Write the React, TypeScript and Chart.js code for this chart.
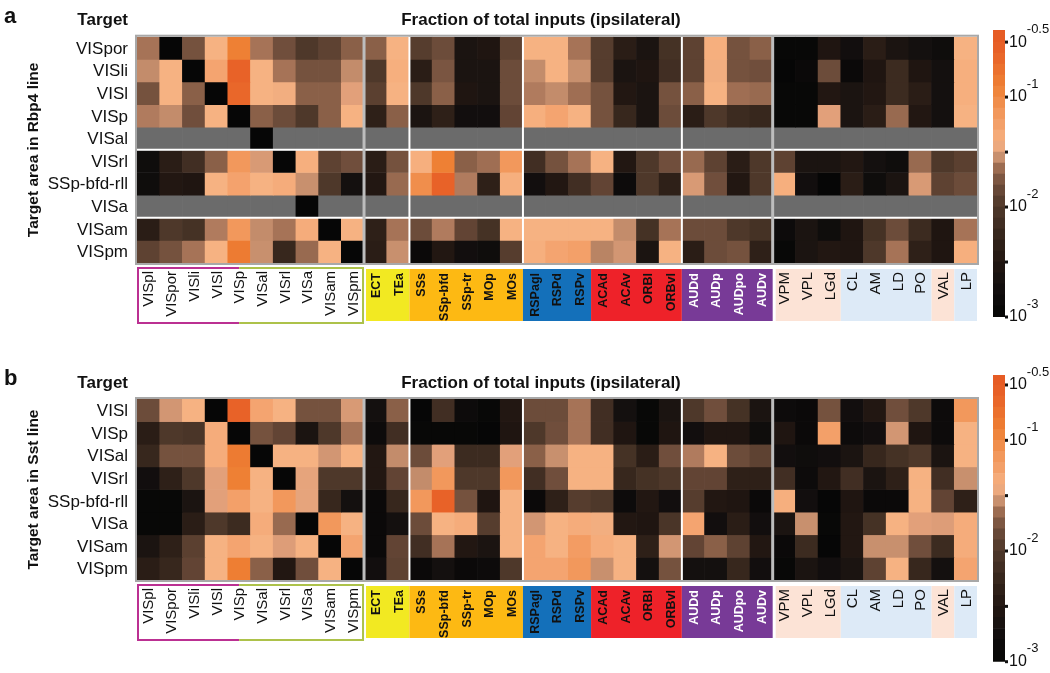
import React, { useEffect, useRef } from "react";
import { Chart, registerables } from "chart.js";
Chart.register(...registerables);

const FONT = '"Liberation Sans", Arial, Helvetica, sans-serif';

// ---------------- categories ----------------
const sourceAreas = [
  "VISpl", "VISpor", "VISli", "VISl", "VISp", "VISal", "VISrl", "VISa", "VISam", "VISpm",
  "ECT", "TEa",
  "SSs", "SSp-bfd", "SSp-tr", "MOp", "MOs",
  "RSPagl", "RSPd", "RSPv",
  "ACAd", "ACAv", "ORBl", "ORBvl",
  "AUDd", "AUDp", "AUDpo", "AUDv",
  "VPM", "VPL", "LGd", "CL", "AM", "LD", "PO", "VAL", "LP",
];

const rbp4Targets = ["VISpor", "VISli", "VISl", "VISp", "VISal", "VISrl", "SSp-bfd-rll", "VISa", "VISam", "VISpm"];
const sstTargets = ["VISl", "VISp", "VISal", "VISrl", "SSp-bfd-rll", "VISa", "VISam", "VISpm"];

// ---------------- values: log10(fraction of total inputs), null = not measured ----------------
const N = null;
// Rbp4 line
const rbp4_VISpor = [-1.62, -3, -1.78, -1.4, -0.9, -1.62, -1.8, -2.0, -1.9, -1.7, -1.7, -1.4, -1.95, -1.82, -2.6, -2.55, -1.9, -1.4, -1.4, -1.62, -1.95, -2.4, -2.6, -2.1, -1.9, -1.38, -1.78, -1.7, -2.95, -2.95, -2.55, -2.75, -2.4, -2.6, -2.7, -2.8, -1.4];
const rbp4_VISli = [-1.56, -1.4, -3, -1.3, -0.6, -1.4, -1.62, -1.78, -1.78, -1.56, -2.0, -1.38, -2.4, -1.76, -2.6, -2.6, -1.82, -1.56, -1.4, -1.55, -1.95, -2.6, -2.55, -2.15, -1.9, -1.42, -1.78, -1.8, -3, -2.9, -1.82, -2.9, -2.55, -2.2, -2.55, -2.7, -1.38];
const rbp4_VISl = [-1.78, -1.4, -1.7, -3, -0.65, -1.4, -1.42, -1.7, -1.7, -1.5, -1.92, -1.4, -2.0, -1.7, -2.55, -2.6, -1.82, -1.6, -1.56, -1.64, -1.78, -2.5, -2.6, -1.78, -1.7, -1.4, -1.64, -1.66, -2.95, -2.95, -2.5, -2.6, -2.5, -2.2, -2.4, -2.7, -1.38];
const rbp4_VISp = [-1.6, -1.56, -1.8, -1.4, -3, -1.7, -1.82, -2.0, -1.7, -1.4, -2.35, -1.7, -2.6, -2.35, -2.75, -2.75, -1.88, -1.38, -1.3, -1.4, -1.78, -2.25, -2.6, -1.82, -2.4, -2.0, -2.2, -2.25, -2.95, -2.95, -1.5, -2.6, -2.4, -1.66, -2.5, -2.7, -1.4];
const rbp4_VISal = [N, N, N, N, N, -3, N, N, N, N, N, N, N, N, N, N, N, N, N, N, N, N, N, N, N, N, N, N, N, N, N, N, N, N, N, N, N];
const rbp4_VISrl = [-2.8, -2.4, -2.15, -1.7, -1.15, -1.52, -3, -1.38, -1.9, -1.8, -2.4, -1.78, -1.38, -0.9, -1.7, -1.64, -1.15, -2.15, -1.78, -1.62, -1.4, -2.5, -2.0, -1.8, -1.66, -1.9, -2.4, -2.0, -1.9, -2.6, -2.6, -2.5, -2.7, -2.8, -1.66, -2.0, -1.92];
const rbp4_SSpbfdrll = [-2.8, -2.5, -2.55, -1.4, -1.28, -1.4, -1.36, -1.55, -2.0, -2.7, -2.5, -1.66, -1.05, -0.6, -1.6, -2.35, -1.38, -2.75, -2.5, -2.15, -1.88, -2.85, -2.0, -2.35, -1.52, -1.8, -2.5, -2.0, -1.38, -2.75, -3, -2.4, -2.8, -2.6, -1.52, -1.9, -1.82];
const rbp4_VISa = [N, N, N, N, N, N, N, -3, N, N, N, N, N, N, N, N, N, N, N, N, N, N, N, N, N, N, N, N, N, N, N, N, N, N, N, N, N];
const rbp4_VISam = [-2.4, -2.0, -2.1, -1.6, -1.15, -1.56, -1.62, -1.36, -3, -1.4, -2.35, -1.62, -1.82, -1.6, -1.88, -2.1, -1.4, -1.4, -1.4, -1.4, -1.4, -1.56, -2.1, -1.62, -1.82, -1.82, -2.0, -2.1, -2.85, -2.6, -2.8, -2.55, -2.1, -1.82, -2.2, -2.55, -1.62];
const rbp4_VISpm = [-1.9, -1.78, -1.62, -1.4, -0.85, -1.55, -2.25, -1.66, -1.4, -3, -2.4, -1.55, -2.9, -2.5, -2.75, -2.8, -1.95, -1.38, -1.3, -1.25, -1.58, -1.53, -2.6, -1.4, -2.4, -1.82, -1.78, -2.35, -2.95, -2.6, -2.5, -2.55, -2.0, -1.62, -2.35, -2.55, -1.38];
// Sst line
const sst_VISl = [-1.82, -1.53, -1.4, -3, -0.6, -1.3, -1.4, -1.78, -1.78, -1.52, -2.7, -1.7, -3, -2.15, -2.85, -2.95, -2.5, -1.82, -1.82, -1.62, -2.15, -2.7, -2.95, -2.6, -2.0, -1.8, -2.1, -2.6, -2.85, -2.9, -1.78, -2.75, -2.5, -1.8, -2.0, -2.85, -1.15];
const sst_VISp = [-2.4, -2.0, -2.05, -1.36, -3, -1.78, -1.88, -2.6, -2.0, -1.62, -2.85, -2.15, -2.95, -2.95, -2.95, -3, -2.55, -2.0, -1.8, -1.62, -2.15, -2.55, -2.95, -2.55, -2.75, -2.55, -2.55, -2.8, -2.55, -2.9, -1.25, -2.85, -2.75, -1.53, -2.55, -2.85, -1.4];
const sst_VISal = [-2.25, -1.78, -1.78, -1.36, -0.85, -3, -1.4, -1.4, -1.53, -1.4, -2.5, -1.56, -1.82, -1.5, -2.2, -2.2, -1.5, -1.7, -1.55, -1.4, -1.4, -2.1, -2.4, -1.8, -1.6, -1.4, -1.82, -1.9, -2.75, -2.8, -2.75, -2.6, -2.25, -2.1, -2.0, -2.6, -1.4];
const sst_VISrl = [-2.75, -2.35, -2.0, -1.5, -0.9, -1.4, -3, -1.48, -2.0, -2.0, -2.5, -1.88, -1.56, -1.15, -2.0, -2.0, -1.15, -2.15, -1.8, -1.4, -1.4, -2.25, -2.1, -2.0, -1.88, -1.88, -2.35, -2.35, -2.15, -2.85, -2.5, -2.15, -2.6, -2.35, -1.4, -2.15, -1.55];
const sst_SSpbfdrll = [-2.95, -2.95, -2.6, -1.5, -1.25, -1.4, -1.15, -1.48, -2.25, -2.7, -2.9, -2.25, -1.15, -0.6, -1.78, -2.55, -1.4, -2.9, -2.35, -1.95, -2.0, -2.85, -2.5, -2.75, -1.95, -2.5, -2.55, -2.9, -1.38, -2.75, -3, -2.55, -2.9, -2.9, -1.4, -1.88, -2.35];
const sst_VISa = [-2.95, -2.95, -2.4, -2.0, -2.2, -1.36, -1.66, -3, -1.15, -1.4, -2.9, -2.7, -1.82, -1.4, -1.36, -1.95, -1.4, -1.53, -1.4, -1.36, -1.42, -2.5, -2.55, -2.05, -1.3, -2.75, -2.4, -2.75, -2.6, -1.55, -2.95, -2.5, -2.1, -1.4, -1.5, -1.51, -1.36];
const sst_VISam = [-2.6, -2.35, -1.92, -1.4, -1.3, -1.4, -1.51, -1.4, -3, -1.3, -2.9, -1.88, -2.15, -1.62, -2.5, -2.6, -1.4, -1.3, -1.4, -1.2, -1.36, -1.4, -2.35, -1.53, -1.88, -1.7, -1.9, -2.5, -2.9, -2.2, -3, -2.5, -1.55, -1.55, -1.8, -2.2, -1.36];
const sst_VISpm = [-2.4, -2.25, -1.88, -1.4, -0.88, -1.7, -2.5, -1.8, -1.4, -3, -2.75, -1.9, -2.9, -2.7, -2.9, -2.85, -2.0, -1.3, -1.3, -1.15, -1.55, -1.4, -2.7, -1.78, -2.7, -2.7, -2.25, -2.75, -2.95, -2.6, -2.75, -2.6, -1.9, -1.4, -2.25, -2.7, -1.3];

const rbp4Rows = [rbp4_VISpor, rbp4_VISli, rbp4_VISl, rbp4_VISp, rbp4_VISal, rbp4_VISrl, rbp4_SSpbfdrll, rbp4_VISa, rbp4_VISam, rbp4_VISpm];
const sstRows = [sst_VISl, sst_VISp, sst_VISal, sst_VISrl, sst_SSpbfdrll, sst_VISa, sst_VISam, sst_VISpm];

// colour bar ticks (log10 values) and exponent labels
const cbTickValues = [-3, -2.5, -2, -1.5, -1, -0.5];
const cbTickLabels = ["-3", "", "-2", "", "-1", "-0.5"];

// ---------------- styles ----------------
const GRAY = "#6B6B6B";
const STOPS: [number, number[]][] = [
  [-3.0, [6, 6, 6]], [-2.7, [20, 16, 15]], [-2.5, [34, 23, 18]], [-2.35, [46, 32, 24]],
  [-2.2, [60, 43, 32]], [-2.0, [78, 56, 42]], [-1.9, [94, 66, 50]], [-1.8, [112, 78, 60]],
  [-1.7, [138, 96, 72]], [-1.62, [166, 115, 87]], [-1.55, [200, 144, 110]], [-1.5, [226, 160, 122]],
  [-1.4, [246, 178, 130]], [-1.3, [244, 164, 112]], [-1.15, [242, 152, 92]], [-0.9, [238, 128, 52]],
  [-0.6, [232, 98, 40]], [-0.35, [228, 88, 34]],
];
function colorFor(v: number | null): string {
  if (v === null || v === undefined) return GRAY;
  if (v <= STOPS[0][0]) return `rgb(${STOPS[0][1].join(",")})`;
  for (let i = 1; i < STOPS.length; i++) {
    if (v <= STOPS[i][0]) {
      const [a, ca] = STOPS[i - 1];
      const [b, cb] = STOPS[i];
      const t = (v - a) / (b - a);
      const c = ca.map((x, k) => Math.round(x + (cb[k] - x) * t));
      return `rgb(${c.join(",")})`;
    }
  }
  return `rgb(${STOPS[STOPS.length - 1][1].join(",")})`;
}

const labelGroups = [
  { from: 10, to: 11, fill: "#F2E922", text: "#111", bold: true, shift: 2 },
  { from: 12, to: 16, fill: "#FDB913", text: "#111", bold: true, shift: 0 },
  { from: 17, to: 19, fill: "#1470BA", text: "#111", bold: true, shift: 0 },
  { from: 20, to: 23, fill: "#EE2229", text: "#111", bold: true, shift: 0 },
  { from: 24, to: 27, fill: "#783A97", text: "#fff", bold: true, shift: 0 },
  { from: 28, to: 30, fill: "#FCE3D6", text: "#111", bold: false, shift: 3 },
  { from: 31, to: 34, fill: "#DDEAF7", text: "#111", bold: false, shift: 0 },
  { from: 35, to: 35, fill: "#FCE3D6", text: "#111", bold: false, shift: 0 },
  { from: 36, to: 36, fill: "#DDEAF7", text: "#111", bold: false, shift: 0 },
];
const whiteSepCols = [12, 17, 24];
const graySepCols = [10, 28];

function makeDecor(opts: { letter: string; rows: string[]; yTitle: string; hLines: number[] }) {
  return {
    id: "decor" + opts.letter,
    afterDraw(chart: any) {
      const { ctx, chartArea: ca } = chart;
      const xs = chart.scales.x;
      const ys = chart.scales.y;
      const n = sourceAreas.length;
      const cw = (ca.right - ca.left) / n;
      const cx = (i: number) => xs.getPixelForValue(i);
      const left = (i: number) => cx(i) - cw / 2;
      const right = (i: number) => cx(i) + cw / 2;
      const ry = (r: number) => ys.getPixelForValue(r);
      ctx.save();
      // separators
      ctx.strokeStyle = "#ffffff";
      ctx.lineWidth = 2;
      for (const r of opts.hLines) {
        ctx.beginPath(); ctx.moveTo(ca.left, ry(r)); ctx.lineTo(ca.right, ry(r)); ctx.stroke();
      }
      for (const c of whiteSepCols) {
        ctx.beginPath(); ctx.moveTo(left(c), ca.top); ctx.lineTo(left(c), ca.bottom); ctx.stroke();
      }
      ctx.strokeStyle = "#BDBDBD";
      ctx.lineWidth = 3;
      for (const c of graySepCols) {
        ctx.beginPath(); ctx.moveTo(left(c), ca.top); ctx.lineTo(left(c), ca.bottom); ctx.stroke();
      }
      ctx.strokeStyle = "#A8A8A8";
      ctx.lineWidth = 2;
      ctx.strokeRect(ca.left - 1, ca.top - 1, ca.right - ca.left + 2, ca.bottom - ca.top + 2);

      // header texts
      ctx.fillStyle = "#111";
      ctx.textBaseline = "middle";
      ctx.font = `bold 22px ${FONT}`;
      ctx.textAlign = "left";
      ctx.fillText(opts.letter, 4, ca.top - 20);
      ctx.font = `bold 17px ${FONT}`;
      ctx.textAlign = "right";
      ctx.fillText("Target", 128, ca.top - 16);
      ctx.textAlign = "center";
      ctx.fillText("Fraction of total inputs (ipsilateral)", 541, ca.top - 16);

      // row labels
      ctx.font = `17px ${FONT}`;
      ctx.textAlign = "right";
      opts.rows.forEach((lab, r) => {
        ctx.fillText(lab, 128, (ry(r) + ry(r + 1)) / 2 + 1);
      });
      // y title
      ctx.save();
      ctx.translate(34, (ca.top + ca.bottom) / 2);
      ctx.rotate(-Math.PI / 2);
      ctx.font = `bold 15.5px ${FONT}`;
      ctx.textAlign = "center";
      ctx.fillText(opts.yTitle, 0, 0);
      ctx.restore();

      // bottom label boxes
      const visTop = ca.bottom + 5;
      const visBot = ca.bottom + 60;
      const mid = cx(4);
      ctx.fillStyle = "#fff";
      ctx.fillRect(left(0), visTop, right(9) - left(0), visBot - visTop);
      ctx.lineWidth = 2;
      ctx.strokeStyle = "#BB3092";
      ctx.beginPath();
      ctx.moveTo(mid, visTop); ctx.lineTo(left(0) + 1, visTop); ctx.lineTo(left(0) + 1, visBot); ctx.lineTo(mid, visBot);
      ctx.stroke();
      ctx.strokeStyle = "#ADC24A";
      ctx.beginPath();
      ctx.moveTo(mid, visTop); ctx.lineTo(right(9) - 1, visTop); ctx.lineTo(right(9) - 1, visBot); ctx.lineTo(mid, visBot);
      ctx.stroke();

      const gTop = ca.bottom + 6;
      const gBot = ca.bottom + 58;
      for (const g of labelGroups) {
        ctx.fillStyle = g.fill;
        const x0 = left(g.from) + g.shift;
        ctx.fillRect(x0, gTop, right(g.to) - x0, gBot - gTop);
      }

      const drawRot = (text: string, x: number, y: number, font: string, color: string) => {
        ctx.save();
        ctx.translate(x, y);
        ctx.rotate(-Math.PI / 2);
        ctx.font = font;
        ctx.fillStyle = color;
        ctx.textAlign = "right";
        ctx.textBaseline = "middle";
        ctx.fillText(text, 0, 0);
        ctx.restore();
      };
      for (let i = 0; i < 10; i++) drawRot(sourceAreas[i], cx(i) + 1, visTop + 3, `15px ${FONT}`, "#111");
      for (const g of labelGroups) {
        for (let i = g.from; i <= g.to; i++) {
          const font = g.bold ? `bold 12.5px ${FONT}` : `15px ${FONT}`;
          drawRot(sourceAreas[i], cx(i) + 1, gTop + (g.bold ? 4 : 3), font, g.text);
        }
      }
      ctx.restore();
    },
  };
}

function makeHeatmap(canvas: HTMLCanvasElement, rows: (number | null)[][], padding: any, decor: any) {
  return new Chart(canvas, {
    type: "bar",
    data: {
      labels: sourceAreas,
      datasets: rows.map((vals, r) => ({
        label: String(r),
        data: vals.map(() => [r, r + 1]) as any,
        backgroundColor: vals.map((v) => colorFor(v)),
        borderWidth: 0,
        barPercentage: 1,
        categoryPercentage: 1,
        grouped: false,
      })),
    },
    options: {
      animation: false,
      responsive: false,
      maintainAspectRatio: false,
      layout: { padding },
      plugins: { legend: { display: false }, tooltip: { enabled: false } },
      scales: {
        x: { type: "category", display: false, offset: true },
        y: { type: "linear", display: false, min: 0, max: rows.length, reverse: true },
      },
    } as any,
    plugins: [decor],
  });
}

function makeColorbar(canvas: HTMLCanvasElement, padding: any, maxV: number) {
  const bands: { lo: number; hi: number }[] = [];
  for (let lo = -3; lo < maxV - 1e-6; lo += 0.1) bands.push({ lo, hi: Math.min(lo + 0.1, maxV) });
  const tickPlugin = {
    id: "cbTicks",
    afterDraw(chart: any) {
      const { ctx, chartArea: ca } = chart;
      const ys = chart.scales.y;
      ctx.save();
      ctx.fillStyle = "#111";
      cbTickValues.forEach((v, i) => {
        const y = ys.getPixelForValue(v);
        ctx.fillRect(ca.right, y - 1.5, 3, 3);
        const lab = cbTickLabels[i];
        if (lab) {
          ctx.font = `16px ${FONT}`;
          ctx.textAlign = "left";
          ctx.textBaseline = "middle";
          ctx.fillText("10", ca.right + 4, y);
          const w = ctx.measureText("10").width;
          ctx.font = `13px ${FONT}`;
          ctx.fillText(lab, ca.right + 4 + w, y - 13);
        }
      });
      ctx.restore();
    },
  };
  return new Chart(canvas, {
    type: "bar",
    data: {
      labels: ["scale"],
      datasets: bands.map((b) => ({
        data: [[b.lo, b.hi]] as any,
        backgroundColor: colorFor((b.lo + b.hi) / 2),
        borderWidth: 0,
        barPercentage: 1,
        categoryPercentage: 1,
        grouped: false,
      })),
    },
    options: {
      animation: false,
      responsive: false,
      maintainAspectRatio: false,
      layout: { padding },
      plugins: { legend: { display: false }, tooltip: { enabled: false } },
      scales: {
        x: { type: "category", display: false },
        y: { type: "linear", display: false, min: -3, max: maxV },
      },
    } as any,
    plugins: [tickPlugin],
  });
}

export default function App() {
  const aRef = useRef<HTMLCanvasElement>(null);
  const bRef = useRef<HTMLCanvasElement>(null);
  const caRef = useRef<HTMLCanvasElement>(null);
  const cbRef = useRef<HTMLCanvasElement>(null);

  useEffect(() => {
    const charts = [
      makeHeatmap(aRef.current!, rbp4Rows, { left: 137, right: 8, top: 36.7, bottom: 73 },
        makeDecor({ letter: "a", rows: rbp4Targets, yTitle: "Target area in Rbp4 line", hLines: [5, 8] })),
      makeHeatmap(bRef.current!, sstRows, { left: 137, right: 8, top: 63, bottom: 93 },
        makeDecor({ letter: "b", rows: sstTargets, yTitle: "Target area in Sst line", hLines: [] })),
      makeColorbar(caRef.current!, { left: 8, right: 45, top: 30, bottom: 19 }, -0.39),
      makeColorbar(cbRef.current!, { left: 8, right: 45, top: 39, bottom: 11.3 }, -0.41),
    ];
    return () => charts.forEach((c) => c.destroy());
  }, []);

  const abs = (l: number, t: number): React.CSSProperties => ({ position: "absolute", left: l, top: t, display: "block" });
  return (
    <div style={{ position: "absolute", left: 0, top: 0, width: 1050, height: 673, background: "#fff", overflow: "hidden" }}>
      <canvas ref={aRef} width={985} height={336} style={abs(0, 0)} />
      <canvas ref={bRef} width={985} height={337} style={abs(0, 336)} />
      <canvas ref={caRef} width={65} height={336} style={abs(985, 0)} />
      <canvas ref={cbRef} width={65} height={337} style={abs(985, 336)} />
    </div>
  );
}
